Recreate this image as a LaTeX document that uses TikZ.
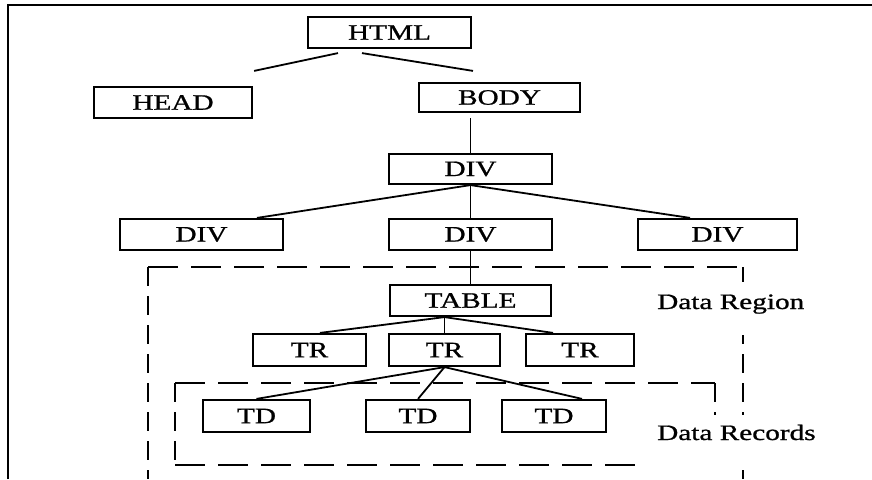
\documentclass[tikz,border=0pt]{standalone}
\usepackage{fontspec}
\setmainfont{Liberation Serif}
\newfontfamily\heavyserif{Liberation Serif}[FakeBold=0.8]
\usepackage{graphicx}
% horizontally widened text, as set in the tree boxes and labels
\newcommand\widetext[1]{\scalebox{1.33}[1]{#1}}
\begin{document}
\begin{tikzpicture}[x=1pt,y=-1pt,
  box/.style={draw, line width=2.2pt, rectangle, inner sep=0pt,
    font=\heavyserif\fontsize{22}{22}\selectfont},
  link/.style={line width=1.8pt},
  dashh/.style={line width=2.2pt, dash pattern=on 30pt off 13pt},
  dashv/.style={line width=2.2pt, dash pattern=on 19pt off 10pt},
  lbl/.style={fill=white, inner sep=0pt, inner xsep=17pt, anchor=base west,
    font=\heavyserif\fontsize{22}{22}\selectfont}
]
\useasboundingbox (0,0) rectangle (872,479);

% frame edges
\draw[line width=2.4pt] (8,479) -- (8,5) -- (872,5);

% region outlines
\draw[dashh] (148,267) -- (743,267);
\draw[dashv] (148,267) -- (148,479);
\draw[dashv] (743,267) -- (743,479);
\draw[dashh] (175,383) -- (715,383);
\draw[dashv] (175,383) -- (175,465);
\draw[dashv] (715,383) -- (715,465);
\draw[dashh] (175,465) -- (715,465);

% labels of the regions
\node[lbl, text height=27pt, text depth=26pt] (region) at (640,309) {\widetext{Data Region}};
\node[lbl, text height=25pt, text depth=27pt] (records) at (640,440) {\widetext{Data Records}};

% tree nodes
\node[box, minimum width=163pt, minimum height=31pt] (html)  at (389.5,32.5) {\widetext{HTML}};
\node[box, minimum width=158pt, minimum height=31pt] (head)  at (173,102.5)  {\widetext{HEAD}};
\node[box, minimum width=161pt, minimum height=29pt] (body)  at (499.5,97.5) {\widetext{BODY}};
\node[box, minimum width=163pt, minimum height=30pt] (div0)  at (470.5,169)  {\widetext{DIV}};
\node[box, minimum width=163pt, minimum height=31pt] (divl)  at (201.5,234.5) {\widetext{DIV}};
\node[box, minimum width=163pt, minimum height=31pt] (divm)  at (470.5,234.5) {\widetext{DIV}};
\node[box, minimum width=159pt, minimum height=31pt] (divr)  at (717.5,234.5) {\widetext{DIV}};
\node[box, minimum width=161pt, minimum height=31pt] (table) at (470.5,300.5) {\widetext{TABLE}};
\node[box, minimum width=113pt, minimum height=32pt] (tr1)   at (309.5,350)  {\widetext{TR}};
\node[box, minimum width=111pt, minimum height=32pt] (tr2)   at (444.5,350)  {\widetext{TR}};
\node[box, minimum width=108pt, minimum height=32pt] (tr3)   at (580,350)    {\widetext{TR}};
\node[box, minimum width=107pt, minimum height=32pt] (td1)   at (256.5,416)  {\widetext{TD}};
\node[box, minimum width=104pt, minimum height=32pt] (td2)   at (418,416)    {\widetext{TD}};
\node[box, minimum width=104pt, minimum height=32pt] (td3)   at (554,416)    {\widetext{TD}};

% connectors
\draw[link] ([xshift=-51.5pt,yshift=-4pt]html.south) -- ([xshift=1pt,yshift=15pt]head.north east);
\draw[link] ([xshift=-27.5pt,yshift=-4pt]html.south) -- ([xshift=-26.5pt,yshift=11pt]body.north);
\coordinate (bodyfoot) at ([yshift=-5pt]body.south);
\draw[link] (div0.north) -- (div0.north |- bodyfoot);
\draw[link] (div0.south) -- ([xshift=55.5pt]divl.north);
\draw[link] (div0.south) -- (divm.north);
\draw[link] (div0.south) -- ([xshift=-27.5pt]divr.north);
\draw[link] (divm.south) -- (table.north);
\coordinate (tablefoot) at (tr2.north |- table.south);
\draw[link] (tablefoot) -- ([xshift=10.5pt]tr1.north);
\draw[link] (tablefoot) -- (tr2.north);
\draw[link] (tablefoot) -- ([xshift=-27pt]tr3.north);
\draw[link] (tr2.south) -- (td1.north);
\draw[link] (tr2.south) -- (td2.north);
\draw[link] (tr2.south) -- ([xshift=28pt]td3.north);
\end{tikzpicture}
\end{document}
